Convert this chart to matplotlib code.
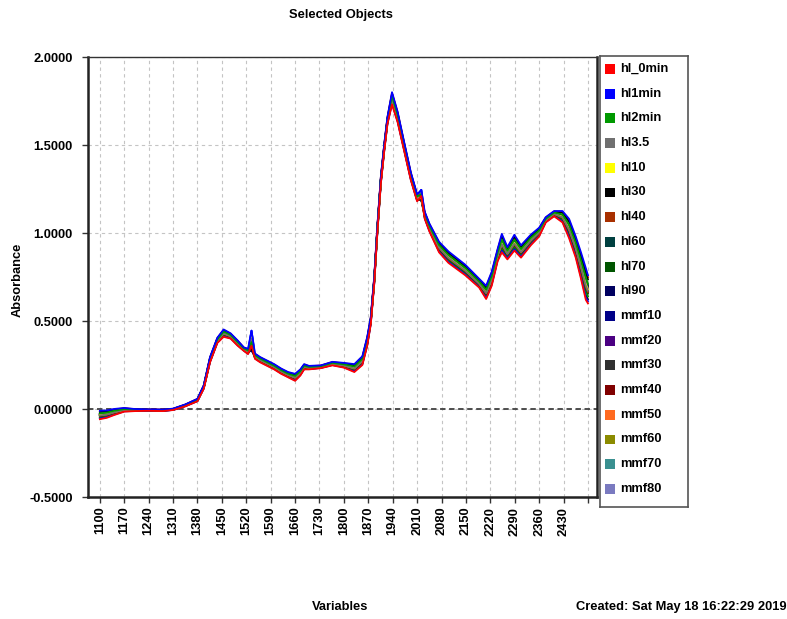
import numpy as np
import matplotlib
matplotlib.use("Agg")
import matplotlib.pyplot as plt

plt.rcParams['font.family'] = ['Liberation Sans', 'DejaVu Sans']
plt.rcParams['font.weight'] = 'bold'
FS = 9.3

# wavelength grid (nm) and the lower / upper edge of the spectra bundle
wavelength = [1100, 1120, 1140, 1170, 1200, 1240, 1280, 1310, 1345, 1380,
              1398, 1416, 1437, 1455, 1475, 1495, 1513, 1525, 1535, 1545,
              1560, 1580, 1600, 1620, 1640, 1660, 1675, 1686, 1700, 1734,
              1767, 1800, 1830, 1853, 1867, 1877, 1887, 1896, 1906, 1916,
              1925, 1938, 1954, 1973, 1992, 2010, 2022, 2032, 2045, 2073,
              2100, 2148, 2188, 2208, 2224, 2241, 2253, 2269, 2289, 2308,
              2336, 2360, 2379, 2403, 2427, 2446, 2465, 2480, 2494, 2500]
lower = [-0.058, -0.050, -0.035, -0.015, -0.012, -0.010, -0.012, -0.006, 0.015, 0.044,
         0.115, 0.265, 0.375, 0.410, 0.400, 0.360, 0.330, 0.312, 0.300, 0.285,
         0.265, 0.245, 0.225, 0.200, 0.180, 0.160, 0.190, 0.225, 0.225, 0.232,
         0.248, 0.235, 0.210, 0.250, 0.360, 0.480, 0.710, 1.000, 1.280, 1.470,
         1.620, 1.730, 1.630, 1.465, 1.300, 1.180, 1.150, 1.080, 1.010, 0.890,
         0.830, 0.760, 0.690, 0.625, 0.700, 0.840, 0.890, 0.850, 0.900, 0.860,
         0.930, 0.980, 1.060, 1.095, 1.060, 0.970, 0.860, 0.740, 0.620, 0.600]
upper = [-0.010, -0.008, 0.000, 0.006, 0.000, -0.002, -0.003, 0.002, 0.026, 0.058,
         0.135, 0.295, 0.405, 0.452, 0.430, 0.390, 0.350, 0.342, 0.330, 0.315,
         0.295, 0.275, 0.255, 0.230, 0.210, 0.200, 0.225, 0.255, 0.245, 0.248,
         0.268, 0.262, 0.255, 0.300, 0.410, 0.520, 0.750, 1.040, 1.320, 1.510,
         1.660, 1.800, 1.690, 1.515, 1.345, 1.220, 1.185, 1.120, 1.055, 0.950,
         0.895, 0.820, 0.740, 0.700, 0.780, 0.910, 0.995, 0.920, 0.990, 0.930,
         0.990, 1.030, 1.090, 1.125, 1.125, 1.080, 0.980, 0.890, 0.800, 0.760]

groups = ['hl_0min', 'hl1min', 'hl2min', 'hl3.5', 'hl10', 'hl30', 'hl40', 'hl60',
          'hl70', 'hl90', 'mmf10', 'mmf20', 'mmf30', 'mmf40', 'mmf50', 'mmf60',
          'mmf70', 'mmf80']
colors = ['#ff0000', '#0000ff', '#009900', '#707070', '#ffff00', '#000000',
          '#a83000', '#004040', '#005500', '#000060', '#000088', '#4b0082',
          '#303030', '#800000', '#ff6a20', '#8b8b00', '#3a9090', '#7a7ac0']
# position of each replicate inside the bundle (0 = lower edge, 1 = upper edge)
replicates = [[0.0, 0.92, 0.5], [1.0, 0.08, 0.62], [0.7, 0.25, 0.45], [0.45], [0.50],
              [0.85, 0.15, 0.55], [0.40], [0.60], [0.35], [0.65], [0.45], [0.55],
              [0.50], [0.40], [0.60], [0.50], [0.45], [0.55]]
# height of the sharp band near 1535 nm and 2022 nm for each group
band_1535 = [0.36, 0.445, 0.38, 0.40, 0.42, 0.34, 0.37, 0.35, 0.39, 0.33,
             0.36, 0.38, 0.34, 0.35, 0.37, 0.36, 0.35, 0.34]
band_2022 = [1.21, 1.245, 1.22, 1.23, 1.20, 1.19, 1.21, 1.20, 1.22, 1.19,
             1.20, 1.21, 1.19, 1.20, 1.21, 1.20, 1.19, 1.20]

xticks = list(range(1100, 2501, 70))
yticks = [-0.5, 0.0, 0.5, 1.0, 1.5, 2.0]

wl = np.array(wavelength)
lo = np.array(lower)
hi = np.array(upper)
i1535 = wavelength.index(1535)
i2022 = wavelength.index(2022)

fig = plt.figure(figsize=(7.87, 6.19), dpi=100)
W, H = 787, 619
ax = fig.add_axes([88 / W, 1 - 497 / H, 509 / W, 440 / H])

# draw replicate by replicate, late groups first, so the colours interleave
for r in reversed(range(3)):
    for g in reversed(range(len(groups))):
        if r >= len(replicates[g]):
            continue
        y = lo + replicates[g][r] * (hi - lo)
        y[i1535] = band_1535[g]
        y[i2022] = band_2022[g]
        ax.plot(wl, y, color=colors[g], lw=1.3, zorder=3)

ax.axhline(0, color='#404040', lw=1.3, dashes=(3, 2), zorder=2)

ax.set_xlim(1066, 2526)
ax.set_ylim(-0.5, 2.0)
ax.set_xticks(xticks)
ax.set_xticklabels([str(t) if t < 2500 else '' for t in xticks], rotation=90,
                   fontsize=FS, fontweight='bold')
ax.set_yticks(yticks)
ax.set_yticklabels(['%.4f' % t for t in yticks], fontsize=FS, fontweight='bold')
ax.tick_params(direction='out', length=4, width=1, color='#333333', pad=3)
ax.tick_params(axis='y', pad=7)
ax.grid(True, color='#c4c4c4', lw=0.8, dashes=(3, 3))
ax.set_axisbelow(True)
for side in ['left', 'bottom', 'right']:
    ax.spines[side].set_linewidth(1.8)
    ax.spines[side].set_color('#222222')
ax.spines['top'].set_linewidth(1.0)
ax.spines['top'].set_color('#333333')

fig.text(341 / W, 1 - 15 / H, 'Selected Objects', ha='center', va='center',
         fontsize=FS, fontweight='bold')
fig.text(18 / W, 1 - 280 / H, 'Absorbance', ha='center', va='center',
         rotation=90, fontsize=FS, fontweight='bold')
fig.text(340 / W, 1 - 607 / H, 'Variables', ha='center', va='center',
         fontsize=FS, fontweight='bold')
fig.text(576 / W, 1 - 607 / H, 'Created: Sat May 18 16:22:29 2019', ha='left',
         va='center', fontsize=FS, fontweight='bold')

# legend box with one coloured square per group
lax = fig.add_axes([600 / W, 1 - 507 / H, 88 / W, 451 / H])
lax.set_xlim(600, 688)
lax.set_ylim(507, 56)
lax.set_xticks([])
lax.set_yticks([])
for s in lax.spines.values():
    s.set_linewidth(1.2)
    s.set_color('#555555')
for i, (name, c) in enumerate(zip(groups, colors)):
    yy = 69 + 24.7 * i
    lax.scatter([610], [yy], marker='s', s=50, color=c, edgecolors='none')
    lax.text(620, yy, name, va='center', ha='left', fontsize=FS,
             fontweight='bold')

fig.savefig('out.png', dpi=100)
